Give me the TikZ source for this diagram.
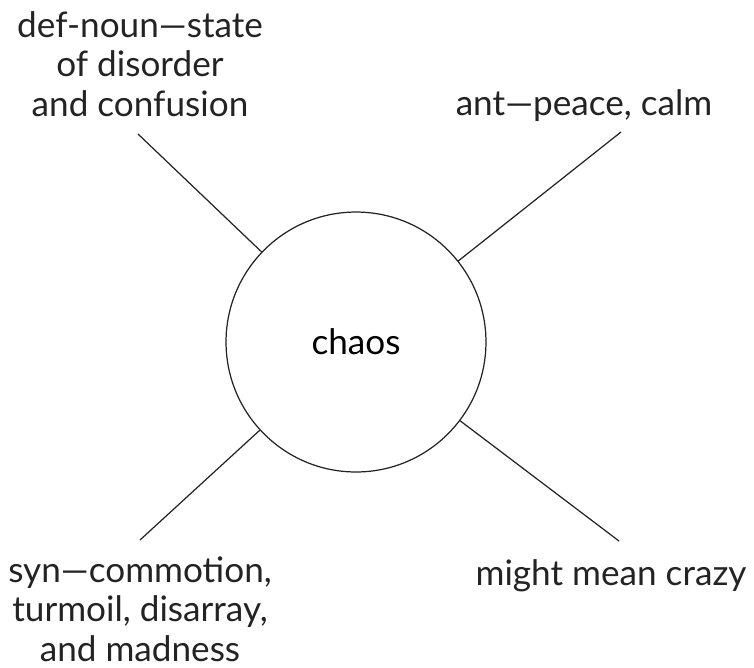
\documentclass[tikz,border=0pt]{standalone}
\usepackage{fontspec}
\setmainfont{Lato}
\usepackage{tikz}
\usetikzlibrary{calc,positioning}
\definecolor{inkgray}{RGB}{35,35,35}

\begin{document}
\begin{tikzpicture}[x=0.02cm, y=-0.02cm]
    \tikzset{
        word/.style={circle, draw=inkgray, line width=0.7pt, minimum size=5.2cm, inner sep=0pt, font=\fontsize{20}{23}\selectfont},
        note/.style={align=center, text=inkgray, font=\fontsize{20}{22.5}\selectfont},
        spoke/.style={draw=inkgray, line width=0.7pt}
    }
    \useasboundingbox (0,0) rectangle (754,667);

    % 中心词
    \node[word] (chaos) at (356,342) {chaos};

    % 四条线的外端点
    \coordinate (tl) at (138,134);
    \coordinate (tr) at (621,132);
    \coordinate (bl) at (140,540);
    \coordinate (br) at (619,541);

    \draw[spoke] (chaos) -- (tl);
    \draw[spoke] (chaos) -- (tr);
    \draw[spoke] (chaos) -- (bl);
    \draw[spoke] (chaos) -- (br);

    % 四个注释
    \node[note] (def) at (140,64) {def-noun---state\\of disorder\\and confusion};
    \node[note] (ant) at (584,106) {ant---peace, calm};
    \node[note] (syn) at (140,609) {syn---commotion,\\turmoil, disarray,\\and madness};
    \node[note] (may) at (611,576) {might mean crazy};
\end{tikzpicture}
\end{document}
